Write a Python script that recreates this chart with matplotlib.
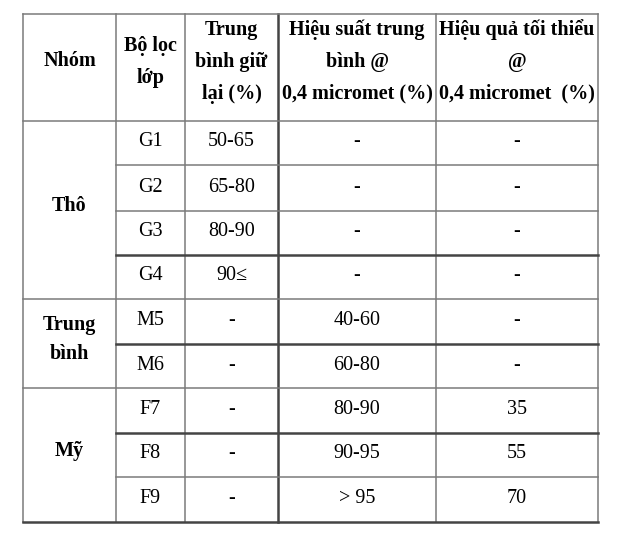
import matplotlib.pyplot as plt

plt.rcParams['font.family'] = ['Liberation Serif', 'DejaVu Serif']

headers = ['Nhóm', 'Bộ lọc\nlớp', 'Trung\nbình giữ\nlại (%)',
           'Hiệu suất trung\nbình @\n0,4 micromet (%)',
           'Hiệu quả tối thiểu\n@\n0,4 micromet  (%)']
groups = ['Thô', 'Trung\nbình', 'Mỹ']
group_sizes = [4, 2, 3]
classes = ['G1', 'G2', 'G3', 'G4', 'M5', 'M6', 'F7', 'F8', 'F9']
retention = ['50-65', '65-80', '80-90', '90≤', '-', '-', '-', '-', '-']
avg_eff = ['-', '-', '-', '-', '40-60', '60-80', '80-90', '90-95', '> 95']
min_eff = ['-', '-', '-', '-', '-', '-', '35', '55', '70']

col_x = [23, 116, 185, 278, 436, 598]
row_y = [14, 121, 165, 211, 255, 299, 344, 388, 433, 477, 522]
line_c = '#7a7a7a'
fs = 14.5

fig = plt.figure(figsize=(6.32, 5.39), dpi=100)
ax = fig.add_axes([0, 0, 1, 1])
ax.set_xlim(0, 632)
ax.set_ylim(539, 0)
ax.axis('off')

# vertical lines
for i, x in enumerate(col_x):
    lw = 1.8 if i == 3 else 1.1
    ax.plot([x, x], [row_y[0], row_y[-1]], color='#444444' if i == 3 else line_c, lw=lw)

# horizontal lines
ax.plot([col_x[0], col_x[-1]], [row_y[0], row_y[0]], color=line_c, lw=1.1)
ax.plot([col_x[0], col_x[-1]], [row_y[1], row_y[1]], color=line_c, lw=1.1)
ax.plot([col_x[0], col_x[-1]], [row_y[-1], row_y[-1]], color='#444444', lw=1.8)
group_ends = [sum(group_sizes[:k + 1]) for k in range(len(group_sizes))]
for r in range(1, len(classes)):
    y = row_y[1 + r]
    x0 = col_x[0] if r in group_ends else col_x[1]
    thick = r in (3, 5, 7)
    ax.plot([x0, col_x[-1]], [y, y], color='#444444' if thick else line_c,
            lw=1.8 if thick else 1.1)

# header
for j, h in enumerate(headers):
    cx = (col_x[j] + col_x[j + 1]) / 2
    ax.text(cx, (row_y[0] + row_y[1]) / 2 - 6, h, ha='center', va='center',
            fontsize=fs, fontweight='bold', linespacing=1.8)

# group labels
start = 0
for g, n in zip(groups, group_sizes):
    y0, y1 = row_y[1 + start], row_y[1 + start + n]
    ax.text((col_x[0] + col_x[1]) / 2, (y0 + y1) / 2 - 4, g, ha='center',
            va='center', fontsize=fs, fontweight='bold', linespacing=1.55)
    start += n

# body
for i in range(len(classes)):
    cy = (row_y[1 + i] + row_y[2 + i]) / 2 - 1
    for j, val in enumerate([classes[i], retention[i], avg_eff[i], min_eff[i]]):
        cx = (col_x[j + 1] + col_x[j + 2]) / 2
        ax.text(cx, cy, val, ha='center', va='center', fontsize=fs)

fig.savefig('out.png', dpi=100, facecolor='white')
